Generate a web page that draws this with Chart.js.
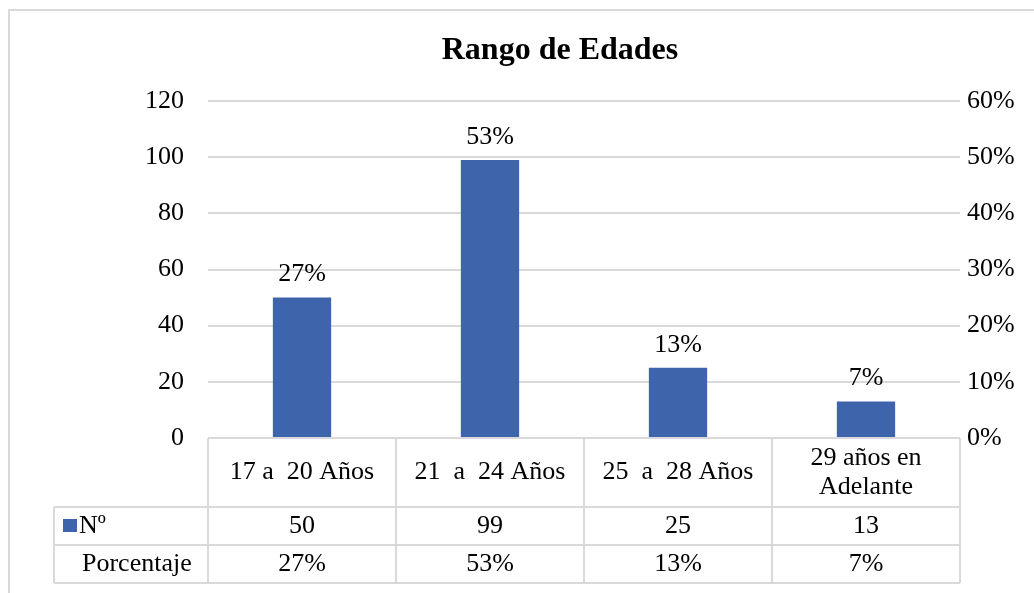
<!DOCTYPE html>
<html>
<head>
<meta charset="utf-8">
<script src="https://cdn.jsdelivr.net/npm/chart.js@4/dist/chart.umd.min.js"></script>
<style>
  html, body { margin: 0; padding: 0; background: #fff; }
  canvas { display: block; }
</style>
</head>
<body>
<canvas id="chart" width="1034" height="593"></canvas>
<script>
const categories = [['17 a  20 Años'], ['21  a  24 Años'], ['25  a  28 Años'], ['29 años en', 'Adelante']];
const counts = [50, 99, 25, 13];
const percents = [27, 53, 13, 7];
const seriesName = 'Nº';
const percentRowName = 'Porcentaje';
const titleText = 'Rango de Edades';

const SERIF = "'Liberation Serif', 'Times New Roman', serif";
const BAR_COLOR = '#3E64AC';
const LINE_COLOR = '#D9D9D9';
const TEXT_SIZE = 26;

function fontStr(size, weight) {
  return `${weight || 'normal'} ${size}px ${SERIF}`;
}

// light frame around the chart plus the title (the frame runs past the picture on the right,
// so the title sits right of the visible centre)
const framePlugin = {
  id: 'frame',
  beforeDraw(chart) {
    const c = chart.ctx;
    c.save();
    c.strokeStyle = LINE_COLOR;
    c.lineWidth = 2;
    c.beginPath();
    c.moveTo(9, chart.height);
    c.lineTo(9, 10);
    c.lineTo(chart.width, 10);
    c.stroke();
    c.font = fontStr(32, 'bold');
    c.fillStyle = '#000';
    c.textAlign = 'center';
    c.textBaseline = 'middle';
    c.fillText(titleText, 560, 51);
    c.restore();
  },
};

// percentage labels above each bar
const barLabels = {
  id: 'barLabels',
  afterDatasetsDraw(chart) {
    const c = chart.ctx;
    const meta = chart.getDatasetMeta(0);
    c.save();
    c.font = fontStr(TEXT_SIZE);
    c.fillStyle = '#000';
    c.textAlign = 'center';
    c.textBaseline = 'middle';
    meta.data.forEach((bar, i) => {
      c.fillText(percents[i] + '%', bar.x, bar.y - 23);
    });
    c.restore();
  },
};

// data table under the plot area
const dataTable = {
  id: 'dataTable',
  afterDraw(chart) {
    const c = chart.ctx;
    const { left, right, bottom } = chart.chartArea;
    const x = chart.scales.x;
    const colW = (right - left) / categories.length;
    const rowTop = bottom;
    const headBottom = bottom + 69;
    const row1Bottom = bottom + 107;
    const row2Bottom = bottom + 145;
    const tableLeft = 54;

    c.save();
    c.strokeStyle = LINE_COLOR;
    c.lineWidth = 2;
    c.beginPath();
    c.moveTo(left, rowTop); c.lineTo(right, rowTop);
    [headBottom, row1Bottom, row2Bottom].forEach((y) => {
      c.moveTo(tableLeft, y); c.lineTo(right, y);
    });
    for (let i = 0; i <= categories.length; i++) {
      const xx = left + i * colW;
      c.moveTo(xx, rowTop); c.lineTo(xx, row2Bottom);
    }
    c.moveTo(tableLeft, headBottom); c.lineTo(tableLeft, row2Bottom);
    c.stroke();

    c.font = fontStr(TEXT_SIZE);
    c.fillStyle = '#000';
    c.textAlign = 'center';
    c.textBaseline = 'middle';
    const headMid = (rowTop + headBottom) / 2;
    const r1Mid = (headBottom + row1Bottom) / 2;
    const r2Mid = (row1Bottom + row2Bottom) / 2;
    const lh = 29;
    categories.forEach((lines, i) => {
      const cx = x.getPixelForValue(i);
      const y0 = headMid - (lines.length - 1) * lh / 2;
      lines.forEach((ln, k) => c.fillText(ln, cx, y0 + k * lh));
      c.fillText(String(counts[i]), cx, r1Mid);
      c.fillText(percents[i] + '%', cx, r2Mid);
    });

    c.fillStyle = BAR_COLOR;
    c.fillRect(63, r1Mid - 7, 14, 13);
    c.fillStyle = '#000';
    c.textAlign = 'left';
    c.fillText(seriesName, 79, r1Mid);
    c.fillText(percentRowName, 82, r2Mid);
    c.restore();
  },
};

new Chart(document.getElementById('chart').getContext('2d'), {
  type: 'bar',
  data: {
    labels: categories.map((l) => l.join(' ')),
    datasets: [{
      label: seriesName,
      data: counts,
      backgroundColor: BAR_COLOR,
      categoryPercentage: 1,
      barPercentage: 0.31,
      yAxisID: 'y',
    }],
  },
  options: {
    responsive: false,
    animation: false,
    layout: { padding: { left: 10, right: 0, top: 101, bottom: 0 } },
    plugins: {
      legend: { display: false },
      tooltip: { enabled: false },
      title: { display: false },
    },
    scales: {
      x: {
        grid: { display: false },
        border: { display: false },
        ticks: { display: false },
        afterFit: (s) => { s.height = 155; },
      },
      y: {
        min: 0,
        max: 120,
        ticks: { stepSize: 20, padding: 24, color: '#000', font: { family: SERIF, size: TEXT_SIZE } },
        grid: { color: LINE_COLOR, lineWidth: 2, drawTicks: false },
        border: { display: false },
        afterFit: (s) => { s.width = 198; },
      },
      y2: {
        position: 'right',
        min: 0,
        max: 0.6,
        ticks: {
          stepSize: 0.1,
          padding: 7,
          color: '#000',
          font: { family: SERIF, size: TEXT_SIZE },
          callback: (v) => Math.round(v * 100) + '%',
        },
        grid: { display: false, drawTicks: false },
        border: { display: false },
        afterFit: (s) => { s.width = 74; },
      },
    },
  },
  plugins: [framePlugin, barLabels, dataTable],
});
</script>
</body>
</html>
